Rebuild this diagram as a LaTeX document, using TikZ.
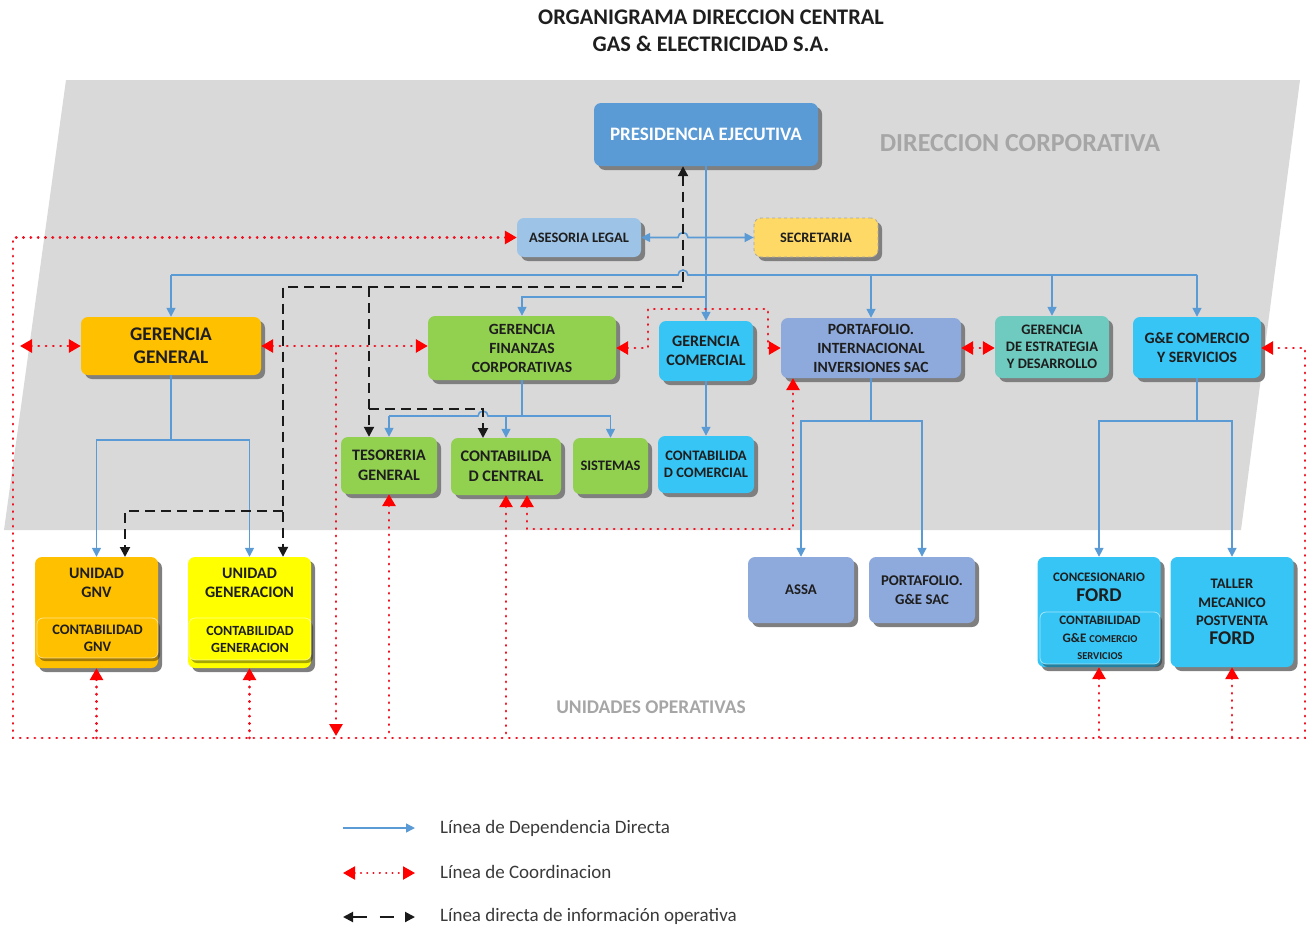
\documentclass[tikz,border=0pt]{standalone}
\usepackage{fontspec}
\setmainfont{Carlito}
\usetikzlibrary{arrows.meta,shadows}
\definecolor{bggray}{HTML}{D9D9D9}
\definecolor{txt}{HTML}{1E1E1E}
\definecolor{lbl}{HTML}{A6A6A6}
\definecolor{shd}{HTML}{7F7F7F}
\definecolor{cPres}{HTML}{5B9BD5}
\definecolor{cAse}{HTML}{9DC3E6}
\definecolor{cSec}{HTML}{FFD966}
\definecolor{cOrange}{HTML}{FFC000}
\definecolor{cGreen}{HTML}{92D050}
\definecolor{cCyan}{HTML}{36C5F4}
\definecolor{cLav}{HTML}{8EA9DB}
\definecolor{cTeal}{HTML}{6FCBBF}
\definecolor{cYellow}{HTML}{FFFF00}
\definecolor{cDep}{HTML}{5B9BD5}
\definecolor{cRed}{HTML}{F01020}
\definecolor{cInfo}{HTML}{1A1A1A}
\definecolor{legtxt}{HTML}{3A3A3A}
\newcommand\myfs[2]{\fontsize{#1}{#2}\selectfont}
\begin{document}
\begin{tikzpicture}[x=1pt,y=-1pt,
  box/.style={rounded corners=7pt, inner sep=0pt, align=center, text=txt,
    drop shadow={shadow xshift=4pt, shadow yshift=-4pt, fill=shd, opacity=1}},
  inbox/.style={rounded corners=6pt, inner sep=0pt, align=center, text=txt,
    draw=white, draw opacity=0.55, line width=0.8pt,
    drop shadow={shadow xshift=2pt, shadow yshift=-3pt, fill=black, opacity=0.35}},
  plain/.style={inner sep=0pt, align=center, text=txt},
  dep/.style={draw=cDep, line width=1.6pt, -{Triangle[length=9pt,width=9pt]}},
  depline/.style={draw=cDep, line width=1.6pt},
  coord/.style={draw=cRed, line width=2.8pt, line cap=round, dash pattern=on 0.3pt off 7pt},
  rtip/.style={-{Triangle[length=12pt,width=13pt,fill=red,color=red]}},
  lrtip/.style={{Triangle[length=12pt,width=13pt,fill=red,color=red]}-{Triangle[length=12pt,width=13pt,fill=red,color=red]}},
  ltip/.style={{Triangle[length=12pt,width=13pt,fill=red,color=red]}-},
  info/.style={draw=cInfo, line width=2pt, dash pattern=on 10pt off 6pt},
  btip/.style={-{Triangle[length=10pt,width=10pt]}},
  lbtip/.style={{Triangle[length=10pt,width=10pt]}-{Triangle[length=10pt,width=10pt]}}
]
\useasboundingbox (0,0) rectangle (1307,926);
% background region
\fill[bggray] (66,80) -- (1300,80) -- (1241,530) -- (4,530) -- cycle;

% titles
\node[plain, font=\bfseries\myfs{22.3}{27}, text=txt] (title) at (711,31) {ORGANIGRAMA DIRECCION CENTRAL\\GAS \& ELECTRICIDAD S.A.};
\node[plain, font=\bfseries\myfs{26}{30}, text=lbl] (dircorp) at (1020,143) {DIRECCION CORPORATIVA};
\node[plain, font=\bfseries\myfs{19.4}{22}, text=lbl] (unidop) at (651,707) {UNIDADES OPERATIVAS};

% top level
\node[box, fill=cPres, text=white, font=\bfseries\myfs{19}{22}, minimum width=224pt, minimum height=63pt] (pres) at (706,134.5) {PRESIDENCIA EJECUTIVA};
\node[box, fill=cAse, font=\bfseries\myfs{14.4}{17}, minimum width=124pt, minimum height=39pt] (ase) at (579,237.5) {ASESORIA LEGAL};
\node[box, fill=cSec, draw=lbl, dashed, line width=0.8pt, font=\bfseries\myfs{14.4}{17}, minimum width=124pt, minimum height=39pt] (sec) at (816,237.5) {SECRETARIA};

% gerencias
\node[box, fill=cOrange, font=\bfseries\myfs{19.3}{23}, minimum width=180pt, minimum height=58pt] (gg) at (171,346) {GERENCIA\\GENERAL};
\node[box, fill=cGreen, font=\bfseries\myfs{15.6}{19}, minimum width=188pt, minimum height=64pt] (gfc) at (522,348) {GERENCIA\\FINANZAS\\CORPORATIVAS};
\node[box, fill=cCyan, font=\bfseries\myfs{16}{19}, minimum width=94pt, minimum height=60pt] (gcom) at (706,351) {GERENCIA\\COMERCIAL};
\node[box, fill=cLav, font=\bfseries\myfs{15.6}{19}, minimum width=180pt, minimum height=60pt] (pii) at (871,348) {PORTAFOLIO.\\INTERNACIONAL\\INVERSIONES SAC};
\node[box, fill=cTeal, font=\bfseries\myfs{14.5}{17}, minimum width=114pt, minimum height=62pt] (ged) at (1052,347) {GERENCIA\\DE ESTRATEGIA\\Y DESARROLLO};
\node[box, fill=cCyan, font=\bfseries\myfs{15.8}{19}, minimum width=128pt, minimum height=61pt] (gecs) at (1197,347.5) {G\&E COMERCIO\\Y SERVICIOS};

% second row
\node[box, fill=cGreen, font=\bfseries\myfs{16}{20}, minimum width=96pt, minimum height=57pt] (tes) at (389,465.5) {TESORERIA\\GENERAL};
\node[box, fill=cGreen, font=\bfseries\myfs{16.2}{20}, minimum width=110pt, minimum height=57pt] (ccen) at (506,466.5) {CONTABILIDA\\D CENTRAL};
\node[box, fill=cGreen, font=\bfseries\myfs{14.5}{17}, minimum width=75pt, minimum height=56pt] (sis) at (610.5,466) {SISTEMAS};
\node[box, fill=cCyan, font=\bfseries\myfs{14.5}{16.5}, minimum width=96pt, minimum height=57pt] (ccom) at (706,464.5) {CONTABILIDA\\D COMERCIAL};

% operating units
\node[box, fill=cOrange, minimum width=123pt, minimum height=111pt] (ugnv) at (96.5,612.5) {};
\node[plain, font=\bfseries\myfs{16}{19}] (ugnvT) at (96.5,583) {UNIDAD\\GNV};
\node[inbox, fill=cOrange, font=\bfseries\myfs{14.5}{17}, minimum width=121pt, minimum height=40pt] (cgnv) at (97.5,638) {CONTABILIDAD\\GNV};

\node[box, fill=cYellow, minimum width=123pt, minimum height=111pt] (ugen) at (249.5,612.5) {};
\node[plain, font=\bfseries\myfs{16}{19}] (ugenT) at (249.5,583) {UNIDAD\\GENERACION};
\node[inbox, fill=cYellow, font=\bfseries\myfs{14}{17}, minimum width=122pt, minimum height=42pt] (cgen) at (250,639) {CONTABILIDAD\\GENERACION};

\node[box, fill=cLav, font=\bfseries\myfs{14.8}{19}, minimum width=106pt, minimum height=66pt] (assa) at (801,590) {ASSA};
\node[box, fill=cLav, font=\bfseries\myfs{14.8}{19}, minimum width=106pt, minimum height=66pt] (pges) at (922,590) {PORTAFOLIO.\\G\&E SAC};

\node[box, fill=cCyan, minimum width=123pt, minimum height=110pt] (cford) at (1099,612) {};
\node[plain, font=\bfseries\myfs{13}{20}] (cfordT) at (1099,587) {CONCESIONARIO\\{\myfs{19.5}{20}FORD}};
\node[inbox, fill=cCyan, font=\bfseries\myfs{13}{17.5}, minimum width=120pt, minimum height=52pt] (cgecs) at (1100,638) {CONTABILIDAD\\G\&E {\myfs{10.5}{17.5}COMERCIO}\\{\myfs{10.5}{17.5}SERVICIOS}};
\node[box, fill=cCyan, font=\bfseries\myfs{14.6}{18.5}, minimum width=123pt, minimum height=110pt] (taller) at (1232,612) {TALLER\\MECANICO\\POSTVENTA\\{\myfs{19.5}{21}FORD}};

% ---------- dependency lines (blue) ----------
\draw[dep] (pres.south) -- (gcom.north);
\draw[depline, {Triangle[length=9pt,width=9pt]}-{Triangle[length=9pt,width=9pt]}] (ase.east) -- (678,237.5) arc[start angle=180, end angle=360, radius=5] -- (sec.west);
\coordinate (b0) at (171,275);
\coordinate (b1) at (1197,275);
\draw[depline] (b0) -- (678,275) arc[start angle=180, end angle=360, radius=5] -- (b1);
\draw[dep] (b0) -- (gg.north);
\draw[dep] (pii.north |- b0) -- (pii.north);
\draw[dep] (ged.north |- b0) -- (ged.north);
\draw[dep] (b1) -- (gecs.north);
\coordinate (b2) at (706,297);
\draw[dep] (b2) -| (gfc.north);

\coordinate (g1) at (171,440);
\draw[depline] (gg.south) -- (g1);
\draw[dep] (g1) -| (ugnv.north);
\draw[dep] (g1) -| (ugen.north);

\coordinate (f1) at (522,416);
\draw[depline] (gfc.south) -- (f1);
\draw[depline] (f1) -- (488,416) arc[start angle=0, end angle=-180, radius=5] -- (389,416);
\draw[dep] (389,416) -- (tes.north);
\draw[dep] (ccen.north |- f1) -- (ccen.north);
\draw[dep] (f1) -| (sis.north);

\draw[dep] (gcom.south) -- (ccom.north);

\coordinate (p1) at (871,421);
\draw[depline] (pii.south) -- (p1);
\draw[dep] (p1) -| (assa.north);
\draw[dep] (p1) -| (pges.north);

\coordinate (c1) at (1197,421);
\draw[depline] (gecs.south) -- (c1);
\draw[dep] (c1) -| (cford.north);
\draw[dep] (c1) -| (taller.north);

% ---------- information lines (black dashed) ----------
\coordinate (d1) at (683,287);
\coordinate (d2) at (283,287);
\coordinate (d3) at (369,287);
\draw[info, lbtip] ([xshift=-23pt]pres.south) -- (d1) -- (d2) -- (d2 |- ugen.north);
\draw[info, btip] (d3) -- (d3 |- tes.north);
\coordinate (d4) at (283,511);
\draw[info, btip] (d4) -- (125,511) -- (125,557);
\coordinate (d5) at (369,409);
\draw[info, btip] (d5) -- (483,409) -- (483,438);

% ---------- coordination lines (red dotted) ----------
\coordinate (LT) at (13,237.5);
\coordinate (LB) at (13,738);
\coordinate (RB) at (1305,738);
\coordinate (RT) at (1305,348);
\draw[coord, lrtip] (ase.west) -- (LT) -- (LB) -- (RB) -- (RT) -- (gecs.east |- RT);
\coordinate (gl) at (20,346);
\draw[coord, lrtip] (gl) -- (gg.east -| gg.west);
\draw[coord, lrtip] (gg.east) -- (gfc.west |- gg.east);
\coordinate (j1) at (336,346);
\draw[coord, rtip] (j1) -- (336,736);
\draw[coord, ltip] (tes.south) -- (tes.south |- LB);
\draw[coord, ltip] (ccen.south) -- (ccen.south |- LB);
\draw[coord, lrtip] ([xshift=21pt]ccen.south) -- (527,529) -- (793,529) -- ([xshift=-78pt]pii.south);
\draw[coord, lrtip] (gfc.east) -- (648,348) -- (648,309) -- (768,309) -- (768,348) -- (pii.west);
\draw[coord, lrtip] (pii.east) -- (ged.west |- pii.east);
\draw[coord, ltip] (ugnv.south) -- (ugnv.south |- LB);
\draw[coord, ltip] (ugen.south) -- (ugen.south |- LB);
\draw[coord, ltip] (cford.south) -- (cford.south |- LB);
\draw[coord, ltip] (taller.south) -- (taller.south |- LB);

% ---------- legend ----------
\coordinate (l1a) at (343,828); \coordinate (l1b) at (415,828);
\coordinate (l2a) at (343,873); \coordinate (l2b) at (415,873);
\coordinate (l3a) at (343,917); \coordinate (l3b) at (415,917);
\draw[dep, line width=1.4pt] (l1a) -- (l1b);
\draw[coord, lrtip, line width=2pt, dash pattern=on 0.3pt off 6pt] (l2a) -- (l2b);
\draw[info, lbtip, dash pattern=on 14pt off 13pt] (l3a) -- (l3b);
\node[anchor=west, inner sep=0pt, text=legtxt, font=\myfs{19}{22}] (leg1) at (440,828) {Línea de Dependencia Directa};
\node[anchor=west, inner sep=0pt, text=legtxt, font=\myfs{19}{22}] (leg2) at (440,872) {Línea de Coordinacion};
\node[anchor=west, inner sep=0pt, text=legtxt, font=\myfs{19}{22}] (leg3) at (440,916) {Línea directa de información operativa};
\end{tikzpicture}
\end{document}
